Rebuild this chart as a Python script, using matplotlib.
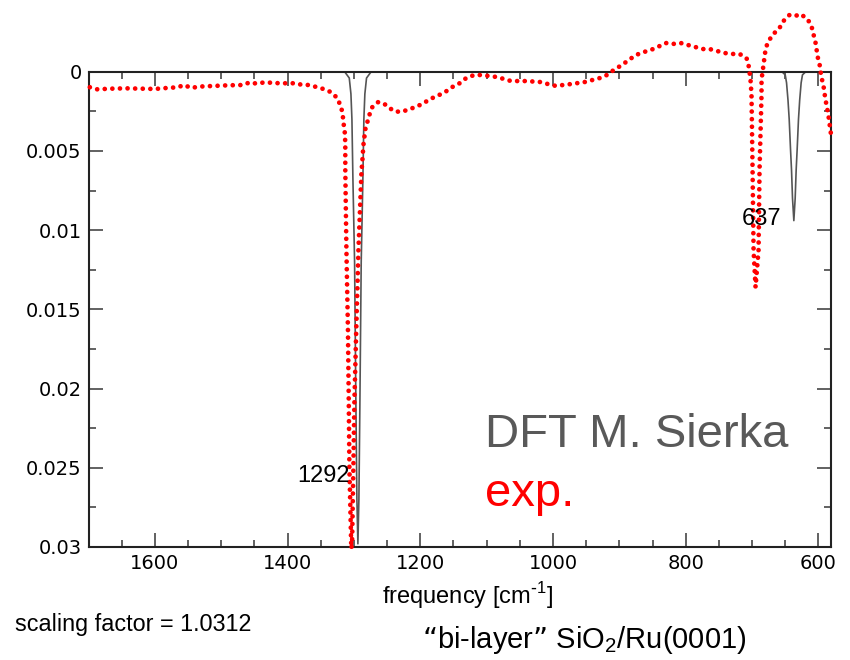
import matplotlib
matplotlib.use("Agg")
import matplotlib.pyplot as plt
from matplotlib.ticker import FixedLocator, MultipleLocator

# DFT spectrum (gray line)
dft_freq = [1700, 1314, 1307, 1304.5, 1303, 1301.5, 1299, 1297, 1295.5, 1294,
            1292.5, 1291, 1289, 1286.5, 1285, 1283.5, 1281, 1274,
            655, 650, 648, 645.8, 644, 642, 640.5, 639, 637,
            635, 633.5, 632, 630, 628.2, 626, 624, 619, 581]
dft_int = [0, 0, 0.0004, 0.0014, 0.003, 0.0068, 0.012, 0.021, 0.027, 0.0298,
           0.027, 0.021, 0.012, 0.0068, 0.003, 0.0014, 0.0004, 0,
           0, 0.0002, 0.0007, 0.0018, 0.003, 0.0049, 0.0062, 0.008, 0.0094,
           0.008, 0.0062, 0.0049, 0.003, 0.0018, 0.0007, 0.0002, 0, 0]

# experimental spectrum (red dots)
exp_freq = [1698, 1687, 1665, 1643, 1621, 1600, 1577, 1566, 1556, 1545,
            1534, 1512, 1490, 1467, 1457, 1446, 1435, 1412, 1389, 1379,
            1368, 1356, 1346, 1335, 1325, 1320, 1317, 1316, 1314, 1313,
            1313, 1313, 1311.3, 1309, 1307.8, 1306.8, 1304.2, 1303.8,
            1302.7, 1300.8, 1299.2, 1296.5, 1293.2, 1288.7, 1287.2, 1285.7,
            1282.7, 1279.7, 1276.7, 1272.2, 1263.2, 1251.1, 1240.6, 1230.1,
            1219.5, 1207.5, 1197, 1185, 1174.4, 1162.4, 1151.9, 1139.8,
            1130.8, 1118.8, 1108.3, 1096.2, 1085.7, 1073.7, 1063.2, 1040.6,
            1019.5, 1007.5, 995.5, 985, 972.9, 951.9, 929.3, 918.8, 908.3,
            896.2, 885.7, 875.2, 863.2, 852.6, 842.1, 830.1, 819.5, 807.5,
            797, 785, 774.4, 763.9, 753.4, 741.4, 730.8, 718.8, 708.3, 705.3,
            703.8, 702.3, 700.8, 699.2, 697.7, 694.7, 690.2, 688.7, 685.7,
            685.7, 684.2, 682.7, 681.2, 679.7, 676.7, 669.2, 658.6, 652.6,
            643.6, 634.6, 627.1, 616.5, 610.5, 607.5, 604.5, 603, 601.5,
            598.5, 597, 595.5, 592.5, 591, 589.5, 585, 582, 580.5]
exp_abs = [0.00098, 0.00111, 0.00107, 0.00105, 0.00107, 0.00109, 0.00101,
           0.00099, 0.00084, 0.00103, 0.00094, 0.00090, 0.00086, 0.00084,
           0.00067, 0.00076, 0.00067, 0.00073, 0.00073, 0.00082,
           0.00084, 0.00097, 0.00109, 0.00128, 0.00166, 0.00217, 0.00261,
           0.00318, 0.00368, 0.0045, 0.00539, 0.0062, 0.01126, 0.0163,
           0.0207, 0.025, 0.0297, 0.0301,
           0.0296, 0.025, 0.0207, 0.0163, 0.01126, 0.0064, 0.00557, 0.00463,
           0.00362, 0.00318, 0.00273, 0.00223, 0.00191, 0.0021, 0.00248,
           0.00254, 0.00242, 0.00223, 0.00204, 0.00172, 0.00153, 0.00128,
           0.00097, 0.00071, 0.0004, 0.00021, 0.00021, 0.00027, 0.00033,
           0.00046, 0.00059, 0.00059, 0.00065, 0.00078, 0.0009, 0.00084,
           0.00078, 0.00065, 0.0004, 0.00021, -0.00011, -0.00042, -0.00074,
           -0.00105, -0.00124, -0.00137, -0.00156, -0.00181, -0.00175,
           -0.00181, -0.00169, -0.00156, -0.00143, -0.00143, -0.00131,
           -0.00118, -0.00112, -0.00112, -0.00086, -0.00042, 0.00002, 0.00052,
           0.00147, 0.0062, 0.01126, 0.0136, 0.01126, 0.0062, 0.00147,
           0.00052, 0.00002, -0.00042, -0.00093, -0.00137, -0.00181, -0.00232,
           -0.00276, -0.0032, -0.00358, -0.00352, -0.00364, -0.00333,
           -0.00289, -0.00238, -0.00187, -0.0015, -0.00099, -0.00055,
           -0.00011, 0.00034, 0.00084, 0.00128, 0.00172, 0.00273, 0.00368,
           0.00412]

y_ticks = [0, 0.005, 0.01, 0.015, 0.02, 0.025, 0.03]
y_labels = ["0", "0.005", "0.01", "0.015", "0.02", "0.025", "0.03"]
x_ticks = [1600, 1400, 1200, 1000, 800, 600]
x_labels = ["1600", "1400", "1200", "1000", "800", "600"]

W, H = 850, 660


def fx(px):
    return px / W


def fy(py):
    return 1 - py / H


fig = plt.figure(figsize=(W / 100, H / 100), dpi=100)
ax = fig.add_axes([fx(88.5), fy(547), (831 - 88.5) / W, (547 - 71.7) / H])

ax.plot(dft_freq, dft_int, color="#555555", lw=1.2, zorder=2)
ax.plot(exp_freq, exp_abs, color="red", lw=3.4, linestyle=(0, (0.01, 1.6)),
        dash_capstyle="round", clip_on=False, zorder=3)

ax.set_xlim(1700, 581)
ax.set_ylim(0.03, 0)

ax.xaxis.set_major_locator(FixedLocator(x_ticks))
ax.set_xticklabels(x_labels)
ax.xaxis.set_minor_locator(MultipleLocator(50))
ax.yaxis.set_major_locator(FixedLocator(y_ticks))
ax.set_yticklabels(y_labels)
ax.yaxis.set_minor_locator(MultipleLocator(0.0025))

ax.tick_params(which="both", direction="in", top=True, right=True,
               color="#555555", width=1.3, labelsize=14, pad=5)
ax.tick_params(which="major", length=10)
ax.tick_params(which="minor", length=5)
for s in ax.spines.values():
    s.set_color("#222222")
    s.set_linewidth(1.5)

sans = ["Liberation Sans", "DejaVu Sans"]
fig.text(fx(485), fy(447), "DFT M. Sierka", color="#595959", fontsize=34,
         family=sans, va="baseline", ha="left")
fig.text(fx(485), fy(506), "exp.", color="red", fontsize=34,
         family=sans, va="baseline", ha="left")
fig.text(fx(350), fy(481.7), "1292", fontsize=17, family=sans,
         va="baseline", ha="right", zorder=5)
fig.text(fx(742), fy(225), "637", fontsize=17, family=sans,
         va="baseline", ha="left", zorder=5)
fig.text(fx(467.5), fy(596), r"frequency [cm$^{\mathregular{\text{-}1}}$]",
         fontsize=17, family=sans, va="center", ha="center")
fig.text(fx(15), fy(624), "scaling factor = 1.0312", fontsize=16.8,
         family=sans, va="center", ha="left")
fig.text(fx(584), fy(640), "\u201cbi-layer\u201d SiO$_{\\mathregular{2}}$/Ru(0001)",
         fontsize=21, family=sans, va="center", ha="center")

fig.savefig("out.png", dpi=100, facecolor="white")
